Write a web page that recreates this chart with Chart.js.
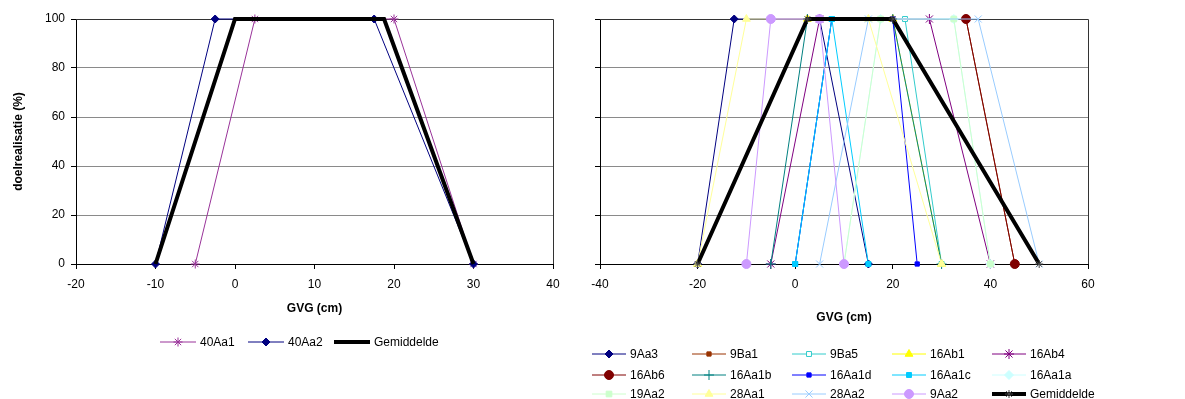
<!DOCTYPE html>
<html>
<head>
<meta charset="utf-8">
<script src="https://cdn.jsdelivr.net/npm/chart.js@4.4.0/dist/chart.umd.min.js"></script>
<style>
  body { margin: 0; background: #fff; }
  .panel { position: absolute; top: 0; }
</style>
</head>
<body>
<div class="panel" style="left:0"><canvas id="links" width="580" height="399"></canvas></div>
<div class="panel" style="left:575px"><canvas id="rechts" width="610" height="399"></canvas></div>
<script>
// doelrealisatie (%) at the four corners of every trapezium
const realisatie = [0, 100, 100, 0];

// GVG (cm) at those corners, left panel
const gvg40Aa1 = [-5, 2.5, 20, 30];
const gvg40Aa2 = [-10, -2.5, 17.5, 30];
const gvgGemLinks = [-10, 0, 18.75, 30];

// GVG (cm) at those corners, right panel (null = corner not plotted)
const gvg9Aa3 = [-20, -12.5, 5, 15];
const gvg9Ba1 = [null, null, 35, 45];
const gvg9Ba5 = [0, 7.5, 22.5, 30];
const gvg16Ab1 = [-20, 2.5, 20, 30];
const gvg16Ab4 = [-5, 5, 27.5, 40];
const gvg16Ab6 = [null, null, 35, 45];
const gvg16Aa1b = [-5, 2.5, 20, 30];
const gvg16Aa1d = [0, 7.5, 20, 25];
const gvg16Aa1c = [0, 7.5, 7.5, 15];
const gvg16Aa1a = [10, 17.5, 32.5, 40];
const gvg19Aa2 = [10, 17.5, 32.5, 40];
const gvg28Aa1 = [-20, -10, 15, 30];
const gvg28Aa2 = [5, 15, 37.5, 50];
const gvg9Aa2 = [-10, -5, 5, 10];
const gvgGemRechts = [-20, 2.5, 20, 50];

// axis ranges: [min, max, step]
const xLinks = [-20, 40, 10];
const xRechts = [-40, 60, 20];
const yAs = [0, 100, 20];

Chart.defaults.font.family = '"Liberation Sans", Arial, sans-serif';
Chart.defaults.font.size = 12;
Chart.defaults.color = '#000';

function serie(label, xs, color, style, extra) {
  return Object.assign({
    label: label,
    data: xs.map((x, i) => ({ x: x, y: realisatie[i] })),
    showLine: true,
    borderColor: color,
    borderWidth: 1,
    pointStyle: style,
    pointRadius: 4,
    pointBorderWidth: 1,
    pointBackgroundColor: color,
    pointBorderColor: color,
    clip: false
  }, extra || {});
}

// later series are painted on top, like the spreadsheet did
function stack(sets) {
  sets.forEach((ds, i) => { ds.order = sets.length - i; });
  return sets;
}

// legend with a line sample and its marker, laid out in fixed columns
const legendGrid = {
  id: 'legendGrid',
  afterDraw(chart, args, opts) {
    const ctx = chart.ctx;
    const sets = chart.data.datasets;
    ctx.save();
    ctx.font = '12px "Liberation Sans", Arial, sans-serif';
    ctx.textBaseline = 'middle';
    sets.forEach((ds, i) => {
      const col = i % opts.columns.length;
      const row = Math.floor(i / opts.columns.length);
      const x = opts.columns[col];
      const y = opts.rows[row];
      ctx.strokeStyle = ds.borderColor;
      ctx.lineWidth = ds.borderWidth;
      ctx.beginPath();
      ctx.moveTo(x, y);
      ctx.lineTo(x + opts.sample, y);
      ctx.stroke();
      if (ds.pointRadius > 0 && Chart.helpers && Chart.helpers.drawPoint) {
        ctx.fillStyle = ds.pointBackgroundColor;
        ctx.strokeStyle = ds.pointBorderColor;
        ctx.lineWidth = ds.pointBorderWidth;
        Chart.helpers.drawPoint(ctx, {
          pointStyle: ds.pointStyle, radius: ds.pointRadius,
          borderWidth: ds.pointBorderWidth, rotation: 0
        }, x + opts.sample / 2, y);
      }
      ctx.fillStyle = '#000';
      ctx.fillText(ds.label, x + opts.sample + 4, y + 1);
    });
    ctx.restore();
  }
};

// plot area frame (top and right edges)
const frame = {
  id: 'frame',
  beforeDatasetsDraw(chart) {
    const a = chart.chartArea;
    const ctx = chart.ctx;
    ctx.save();
    ctx.strokeStyle = '#333';
    ctx.lineWidth = 1;
    ctx.beginPath();
    ctx.moveTo(a.left, a.top + 0.5);
    ctx.lineTo(a.right + 0.5, a.top + 0.5);
    ctx.lineTo(a.right + 0.5, a.bottom);
    ctx.stroke();
    ctx.restore();
  }
};

function options(cfg) {
  return {
    responsive: false,
    devicePixelRatio: 1,
    animation: false,
    layout: { padding: cfg.padding },
    plugins: {
      legend: { display: false },
      tooltip: { enabled: false },
      legendGrid: cfg.legend
    },
    scales: {
      x: {
        type: 'linear',
        min: cfg.xRange[0], max: cfg.xRange[1],
        ticks: { stepSize: cfg.xRange[2], padding: 8, color: '#000' },
        grid: { drawOnChartArea: false, tickLength: 5, tickColor: '#000' },
        border: { color: '#000' },
        title: {
          display: true, text: 'GVG (cm)', color: '#000',
          font: { weight: 'bold', size: 12 }, padding: 0
        },
        afterFit: s => { s.height = cfg.xHeight; }
      },
      y: {
        min: yAs[0], max: yAs[1],
        ticks: { stepSize: yAs[2], display: cfg.yLabels, padding: 6, color: '#000' },
        grid: { color: '#8a8a8a', tickLength: 5, tickColor: '#000' },
        border: { color: '#000' },
        title: {
          display: cfg.yLabels, text: 'doelrealisatie (%)', color: '#000',
          font: { weight: 'bold', size: 12 }, padding: { top: 11, bottom: 0 }
        },
        afterFit: s => { s.width = cfg.yWidth; }
      }
    }
  };
}

new Chart(document.getElementById('links'), {
  type: 'scatter',
  data: {
    datasets: stack([
      serie('40Aa1', gvg40Aa1, '#993399', 'star', { pointRadius: 4.5 }),
      serie('40Aa2', gvg40Aa2, '#000080', 'rectRot', { pointRadius: 4 }),
      serie('Gemiddelde', gvgGemLinks, '#000', 'circle', { borderWidth: 4, pointRadius: 0 })
    ])
  },
  options: options({
    padding: { top: 19, right: 27, bottom: 83, left: 0 },
    xRange: xLinks, xHeight: 52, yWidth: 76, yLabels: true,
    legend: { columns: [160, 248, 334], rows: [342], sample: 36 }
  }),
  plugins: [frame, legendGrid]
});

new Chart(document.getElementById('rechts'), {
  type: 'scatter',
  data: {
    datasets: stack([
      serie('9Aa3', gvg9Aa3, '#000080', 'rectRot'),
      serie('9Ba1', gvg9Ba1, '#993300', 'rect', { pointRadius: 3 }),
      serie('9Ba5', gvg9Ba5, '#33CCCC', 'rect', { pointRadius: 3.5, pointBackgroundColor: '#fff' }),
      serie('16Ab1', gvg16Ab1, '#FFFF00', 'triangle', { pointRadius: 4.5 }),
      serie('16Ab4', gvg16Ab4, '#800080', 'star', { pointRadius: 5 }),
      serie('16Ab6', gvg16Ab6, '#800000', 'circle', { pointRadius: 4.5 }),
      serie('16Aa1b', gvg16Aa1b, '#008080', 'cross', { pointRadius: 5 }),
      serie('16Aa1d', gvg16Aa1d, '#0000FF', 'rect', { pointRadius: 3 }),
      serie('16Aa1c', gvg16Aa1c, '#00CCFF', 'rect', { pointRadius: 3.5 }),
      serie('16Aa1a', gvg16Aa1a, '#CCFFFF', 'rectRot', { pointRadius: 4.5 }),
      serie('19Aa2', gvg19Aa2, '#CCFFCC', 'rect', { pointRadius: 4 }),
      serie('28Aa1', gvg28Aa1, '#FFFF99', 'triangle', { pointRadius: 4.5 }),
      serie('28Aa2', gvg28Aa2, '#99CCFF', 'crossRot', { pointRadius: 5 }),
      serie('9Aa2', gvg9Aa2, '#CC99FF', 'circle', { pointRadius: 4.5 }),
      serie('Gemiddelde', gvgGemRechts, '#000', 'star', { borderWidth: 4, pointRadius: 4, pointBorderColor: '#444' })
    ])
  },
  options: options({
    padding: { top: 19, right: 97, bottom: 74, left: 0 },
    xRange: xRechts, xHeight: 61, yWidth: 25, yLabels: false,
    legend: { columns: [17, 117, 217, 317, 417], rows: [354, 375, 394], sample: 34 }
  }),
  plugins: [frame, legendGrid]
});
</script>
</body>
</html>
